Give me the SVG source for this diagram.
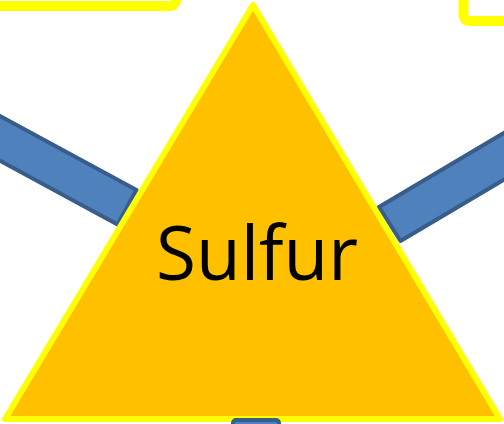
<svg xmlns="http://www.w3.org/2000/svg" width="504" height="424" viewBox="0 0 504 424">
<style>
.box{fill:none;stroke:#FFFF00;stroke-width:10}
.bar{fill:#4F81BD;stroke:#385D8A;stroke-width:4;stroke-linejoin:round}
.tri{fill:#FFC000;stroke:#FFFF00;stroke-width:6;stroke-linejoin:round}
.lbl{font-family:"Open Sans","Liberation Sans",sans-serif;font-size:75px;fill:#000}
</style>
<rect width="504" height="424" fill="#fff"/>
<g id="box-top-left"><rect class="box" x="-60" y="-60" width="236" height="66" rx="6"/></g>
<g id="box-top-right"><rect class="box" x="463.5" y="-60" width="120" height="81" rx="6"/></g>
<g id="connectors">
<polygon class="bar" points="136.5,190 117.5,224.5 -58.3,129.1 -39.3,94.6"/>
<polygon class="bar" points="379,207 400.5,241 572.5,139 551,105"/>
</g>
<g id="sulfur">
<polygon class="tri" points="253,5 5,419 500,419"/>
<text class="lbl" x="257" y="280" text-anchor="middle" textLength="202" lengthAdjust="spacingAndGlyphs">Sulfur</text>
</g>
<g id="connector-bottom"><rect class="bar" x="233" y="420" width="46" height="30" rx="3"/></g>
</svg>
